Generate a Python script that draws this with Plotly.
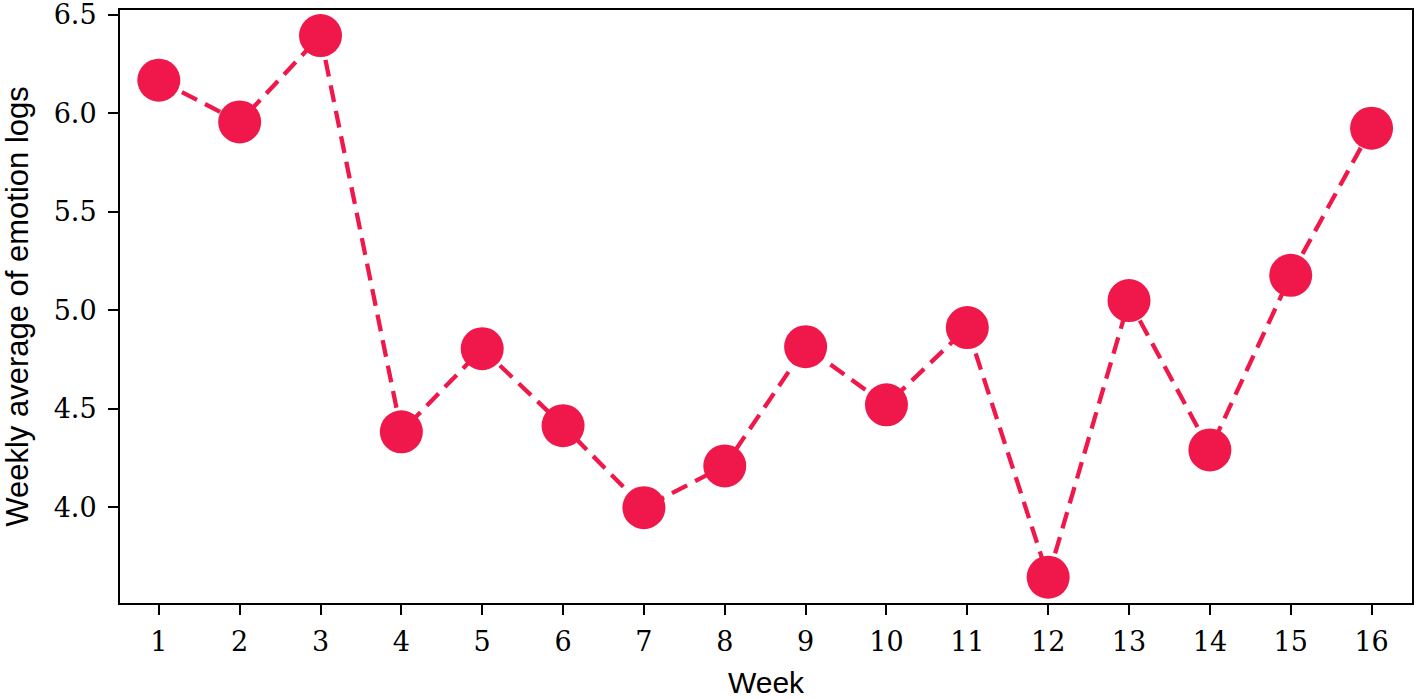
import plotly.graph_objects as go

weeks = list(range(1, 17))
values = [6.169, 5.957, 6.395, 4.384, 4.806, 4.415, 3.999, 4.211,
          4.816, 4.521, 4.913, 3.646, 5.050, 4.292, 5.178, 5.925]
y_ticks = [4.0, 4.5, 5.0, 5.5, 6.0, 6.5]
y_tick_labels = ["4.0", "4.5", "5.0", "5.5", "6.0", "6.5"]

color = "#F0184A"

fig = go.Figure()
fig.add_trace(go.Scatter(
    x=weeks, y=values, mode="lines+markers",
    line=dict(color=color, width=4.3, dash="17px,9px"),
    marker=dict(color=color, size=43, line=dict(width=0)),
    showlegend=False,
))

axis_common = dict(
    showline=True, linecolor="black", linewidth=2, mirror=True,
    ticks="outside", ticklen=10, tickwidth=2, tickcolor="black",
    showgrid=False, zeroline=False, automargin=False,
    ticklabeloverflow="allow",
    tickfont=dict(family="DejaVu Serif", size=27, color="black"),
)

fig.update_layout(
    width=1418, height=699,
    margin=dict(l=120, r=6, t=10, b=96, autoexpand=False),
    plot_bgcolor="white", paper_bgcolor="white",
    xaxis=dict(
        range=[0.52, 16.5], tickmode="array", tickvals=weeks,
        ticktext=[str(w) for w in weeks],
        title=dict(text="Week", font=dict(family="Liberation Sans", size=30, color="black"), standoff=16),
        ticklabelstandoff=4,
        **axis_common,
    ),
    yaxis=dict(
        range=[3.515, 6.525], tickmode="array", tickvals=y_ticks,
        ticktext=y_tick_labels,
        title=dict(text="Weekly average of emotion logs", font=dict(family="Liberation Sans", size=31, color="black"), standoff=16),
        ticklabelstandoff=6,
        **axis_common,
    ),
)

fig.write_html(
    "out.html",
    config={"displayModeBar": False},
    post_script="document.body.style.margin='0';document.body.style.overflow='hidden';",
)
